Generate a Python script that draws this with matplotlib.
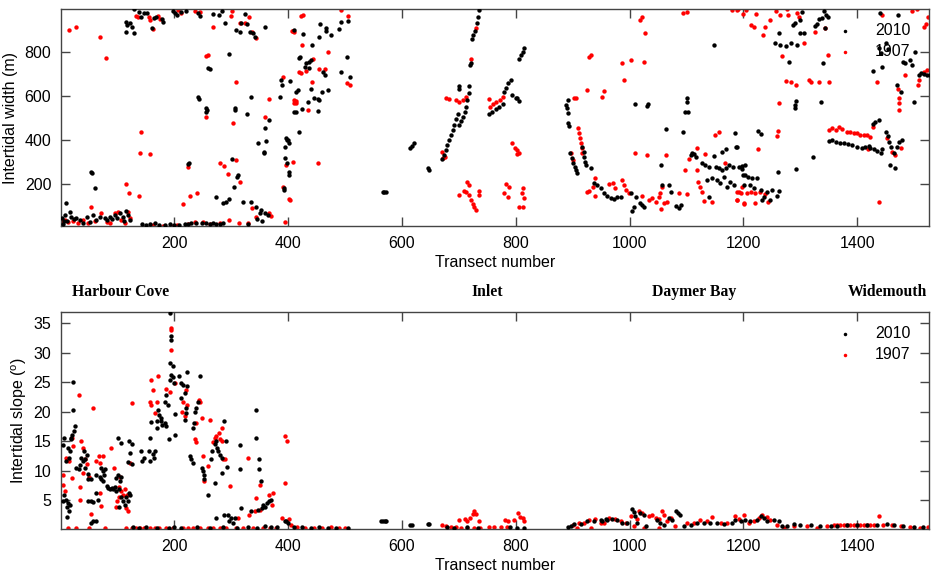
import numpy as np
import matplotlib
matplotlib.use('Agg')
import matplotlib.pyplot as plt

plt.rcParams['font.family'] = ['Liberation Sans', 'DejaVu Sans']
plt.rcParams['mathtext.fontset'] = 'custom'
plt.rcParams['mathtext.rm'] = 'Liberation Sans'

# %% data: (transect number, value)
width_2010 = np.array([
    (9, 115), (16, 74), (8, 59), (19, 51), (28, 44), (34, 36), (46, 51), (57, 59), (69, 51), (78, 44),
    (87, 51), (95, 59), (104, 70), (110, 51), (116, 79), (119, 59), (122, 36), (63, 36), (52, 28), (40, 24),
    (81, 36), (90, 39), (4, 20), (12, 30), (24, 40), (100, 45), (112, 30), (3, 45), (6, 30),
    (144, 18), (157, 18), (166, 21), (174, 13), (192, 16), (209, 13), (218, 18), (230, 24), (239, 21),
    (256, 24), (268, 21), (274, 18), (286, 24), (150, 15), (183, 14), (200, 12), (225, 20), (248, 22),
    (262, 16), (280, 19),
    (116, 938), (117, 922), (116, 892), (126, 915), (130, 885), (129, 994), (138, 983), (146, 975),
    (152, 978), (161, 907), (164, 953), (168, 957), (179, 950), (181, 938), (198, 988), (201, 975),
    (204, 968), (212, 983), (221, 988), (242, 978), (245, 963), (268, 972), (278, 966), (284, 988),
    (290, 930), (309, 900), (315, 889), (318, 930), (325, 972), (328, 927), (333, 892), (338, 884),
    (341, 869), (360, 915), (122, 930), (142, 960),
    (297, 791), (262, 722), (259, 725), (242, 594), (243, 585), (256, 544), (255, 528), (257, 536),
    (307, 544), (306, 536), (328, 518), (334, 597), (366, 491), (360, 453), (362, 397), (357, 339),
    (358, 345), (347, 385), (226, 297), (225, 290), (301, 312), (312, 241), (310, 233), (305, 188),
    (54, 256), (55, 250), (60, 180), (273, 142), (286, 112), (291, 119), (297, 130), (321, 119),
    (335, 119), (344, 94), (353, 82), (350, 66), (359, 66), (365, 59), (346, 40), (355, 30), (330, 20),
    (388, 672), (390, 650), (386, 597), (411, 528), (397, 407), (398, 400), (394, 369), (395, 316),
    (398, 294), (401, 256), (402, 241), (393, 172), (410, 900), (392, 180),
    (456, 927), (467, 907), (466, 897), (475, 877), (454, 869), (426, 881), (493, 938), (506, 942),
    (490, 903), (442, 832), (420, 771), (421, 778), (432, 748), (437, 756), (440, 763), (429, 733),
    (436, 725), (461, 710), (464, 695), (503, 775), (493, 710), (508, 685), (403, 669), (414, 619),
    (417, 627), (440, 630), (460, 619), (470, 627), (446, 589), (452, 585), (455, 581), (435, 574),
    (413, 528), (424, 539), (452, 532), (419, 438), (399, 400), (401, 385),
    (566, 165), (569, 165), (572, 165), (614, 362), (618, 372), (621, 385), (645, 271), (648, 263),
    (671, 312), (674, 331), (677, 354), (680, 377), (683, 400), (686, 422), (689, 445), (692, 468),
    (695, 494), (698, 518), (701, 468), (704, 488), (707, 506), (710, 528), (712, 551), (715, 581),
    (717, 612), (718, 645), (700, 645), (700, 630), (719, 741), (721, 748), (723, 857), (725, 877),
    (729, 897), (731, 930), (733, 960), (736, 991),
    (753, 518), (759, 528), (765, 539), (771, 551), (777, 563), (780, 619), (783, 635), (787, 657),
    (791, 672), (794, 604), (800, 589), (805, 579), (806, 766), (809, 786), (812, 801), (815, 816),
    (803, 589),
    (891, 581), (889, 559), (890, 545), (891, 524), (892, 478), (894, 463), (917, 369), (919, 347),
    (920, 324), (922, 301), (923, 286), (895, 339), (898, 316), (901, 294), (904, 278), (906, 263),
    (908, 251), (932, 271), (937, 203), (943, 195), (949, 180), (955, 160), (961, 145), (967, 135),
    (973, 130), (978, 142), (984, 139), (1002, 160), (1011, 142), (1008, 97), (1005, 79), (1018, 115),
    (1021, 104), (1025, 97), (1009, 563), (1031, 554), (1032, 563), (1101, 592), (1100, 574),
    (1098, 528), (1103, 528), (1064, 448), (1093, 435), (1056, 286), (1057, 195), (1070, 195),
    (1072, 165), (1081, 100), (1087, 89), (1091, 104), (1107, 331), (1110, 342), (1113, 336),
    (1116, 324), (1128, 294), (1133, 286), (1139, 278), (1151, 278), (1157, 271), (1163, 263),
    (1170, 271), (1174, 286), (1181, 278), (1187, 369), (1136, 218), (1145, 225), (1154, 218),
    (1158, 206), (1166, 233), (1171, 188), (1177, 210), (1183, 195), (1186, 430), (1148, 328),
    (1162, 347), (1169, 357), (1139, 142), (1148, 831), (1197, 283), (1200, 241),
    (1256, 839), (1265, 831), (1274, 827), (1283, 839), (1294, 831), (1262, 887), (1290, 933),
    (1287, 922), (1300, 945), (1303, 983), (1300, 884), (1306, 884), (1325, 918), (1329, 927),
    (1333, 948), (1338, 953), (1345, 968), (1349, 957), (1341, 986), (1344, 907), (1280, 756),
    (1339, 748), (1292, 578), (1290, 559), (1291, 544), (1337, 574), (1226, 442), (1230, 425),
    (1189, 369), (1192, 278), (1198, 266), (1202, 286), (1202, 241), (1208, 233), (1215, 225),
    (1224, 225), (1201, 195), (1212, 195), (1218, 180), (1230, 172), (1242, 165), (1250, 172),
    (1262, 169), (1236, 142), (1247, 127), (1259, 145), (1233, 127), (1261, 256), (1292, 266),
    (1323, 324),
    (1351, 395), (1356, 400), (1362, 392), (1369, 385), (1376, 385), (1384, 380), (1391, 375),
    (1400, 369), (1408, 362), (1414, 369), (1420, 372), (1423, 362), (1429, 357), (1435, 351),
    (1441, 342), (1443, 357), (1427, 472), (1432, 483), (1438, 491), (1450, 438), (1454, 418),
    (1456, 392), (1460, 366), (1464, 342), (1470, 369), (1473, 392), (1479, 400), (1458, 286),
    (1466, 271), (1427, 715), (1443, 733), (1438, 816), (1442, 794), (1450, 839), (1454, 812),
    (1440, 978), (1471, 968), (1481, 756), (1484, 748), (1493, 763), (1496, 741), (1502, 801),
    (1508, 695), (1512, 703), (1517, 700), (1522, 695), (1528, 695), (1470, 650), (1476, 619),
    (1499, 574),
])

width_1907 = np.array([
    (15, 900), (28, 915), (70, 866), (80, 774), (132, 965), (136, 960), (156, 957), (158, 945),
    (171, 963), (175, 950), (163, 903), (207, 991), (211, 978), (236, 986), (245, 981), (268, 912),
    (300, 965), (302, 988), (315, 930), (324, 930), (331, 957), (337, 892), (343, 862),
    (256, 782), (259, 786), (309, 665), (255, 503), (366, 586), (304, 478), (360, 506), (142, 438),
    (140, 339), (157, 335), (224, 278), (281, 294), (288, 282), (309, 309), (294, 245), (315, 210),
    (115, 198), (121, 157), (138, 145), (215, 109), (227, 147), (240, 157), (337, 89), (367, 66),
    (370, 54), (344, 51), (54, 97),
    (8, 36), (13, 28), (22, 33), (31, 24), (40, 36), (49, 24), (72, 66), (81, 28), (95, 70), (101, 74),
    (107, 36), (119, 74), (113, 24), (123, 44), (87, 24), (163, 13), (180, 9), (195, 9), (204, 12),
    (224, 18), (236, 29), (250, 29), (262, 18), (280, 21), (297, 36), (314, 24), (329, 24), (3, 30),
    (60, 30),
    (391, 688), (411, 581), (413, 569), (397, 286), (408, 301), (402, 132), (391, 188), (394, 28),
    (407, 897),
    (423, 963), (427, 968), (408, 897), (411, 892), (493, 991), (506, 963), (425, 832), (470, 801),
    (443, 766), (455, 721), (465, 724), (419, 710), (423, 703), (432, 712), (503, 660), (508, 650),
    (442, 665), (413, 577), (411, 569), (435, 536), (452, 294), (404, 127),
    (671, 347), (676, 321), (673, 318), (678, 589), (683, 585), (695, 581), (701, 574), (707, 581),
    (712, 597), (730, 907), (721, 766),
    (715, 210), (717, 195), (709, 169), (712, 165), (701, 150), (718, 150), (735, 169), (736, 150),
    (721, 127), (724, 109), (727, 97), (730, 82),
    (754, 551), (760, 563), (766, 574), (772, 581), (778, 593), (753, 585), (794, 385), (799, 362),
    (803, 336), (783, 200), (788, 188), (780, 160), (787, 142), (812, 180), (811, 157), (815, 135),
    (806, 97), (813, 97),
    (803, 354), (805, 339), (932, 786), (929, 775), (1021, 957), (1019, 945), (1027, 884), (987, 748),
    (1003, 763), (1025, 754), (991, 672), (925, 627), (955, 624), (951, 597), (906, 589), (903, 589),
    (910, 453), (911, 430), (913, 407), (914, 385), (916, 362), (917, 339), (897, 342), (901, 309),
    (939, 228), (926, 165), (929, 170), (935, 188), (940, 145), (963, 200), (970, 203), (975, 180),
    (987, 218), (990, 195), (993, 172), (999, 157),
    (1009, 339), (1031, 331), (1064, 331), (1021, 145), (1034, 127), (1040, 135), (1046, 119),
    (1052, 142), (1053, 160), (1057, 188), (1060, 112), (1066, 119), (1056, 85), (1087, 157),
    (1100, 153), (1098, 263), (1104, 312), (1119, 362), (1132, 336),
    (1118, 263), (1121, 210), (1123, 188), (1128, 165), (1131, 124), (1144, 119), (1150, 422),
    (1157, 438), (1167, 294), (1189, 127), (1193, 165), (1197, 188), (1201, 109),
    (1093, 975), (1101, 983), (1180, 991), (1189, 991), (1200, 972),
    (1191, 994), (1204, 991), (1214, 922), (1218, 915), (1222, 972), (1234, 877), (1237, 912),
    (1247, 945), (1257, 988), (1265, 968), (1277, 994), (1278, 968), (1294, 978), (1297, 960),
    (1306, 842), (1325, 889), (1343, 907), (1267, 781), (1349, 786), (1274, 669), (1283, 665),
    (1292, 650), (1316, 672), (1318, 665), (1332, 665), (1351, 665), (1263, 569), (1261, 442),
    (1259, 418), (1226, 357),
    (1189, 165), (1195, 160), (1206, 157), (1214, 165), (1221, 160), (1229, 162), (1237, 154),
    (1243, 119), (1201, 115), (1189, 127), (1221, 115),
    (1351, 445), (1356, 453), (1362, 445), (1367, 457), (1374, 448), (1382, 435), (1388, 438),
    (1394, 430), (1400, 430), (1405, 422), (1411, 422), (1417, 422), (1423, 415), (1427, 460),
    (1419, 357), (1452, 407), (1461, 347), (1466, 331), (1476, 362), (1439, 116), (1443, 968),
    (1435, 665), (1484, 695), (1507, 650), (1509, 672), (1517, 710), (1522, 718), (1496, 988),
    (1505, 994), (1517, 915), (1520, 927), (1525, 960), (1472, 630), (1474, 589), (1473, 566),
    (1474, 536),
])

slope_2010 = np.array([
    (193, 36.8), (195, 32.9), (195, 32.2), (192, 28.3), (198, 27.7), (195, 26.3), (198, 25.8),
    (199, 24.9), (193, 25.4), (209, 26.0), (212, 24.9), (215, 24.6), (222, 26.8), (222, 24.3),
    (218, 23.2), (211, 22.3), (186, 22.9), (183, 21.7), (189, 21.2), (202, 19.6), (201, 16.1),
    (191, 15.4), (221, 20.6), (220, 19.8), (218, 18.6), (171, 20.2), (174, 19.5), (177, 18.9),
    (177, 18.4), (179, 17.8), (183, 18.1), (186, 17.5), (169, 18.4), (169, 17.3), (159, 18.2),
    (158, 15.5), (142, 13.3), (146, 12.1), (144, 11.6), (156, 13.3), (163, 12.8), (164, 12.1),
    (158, 11.6), (167, 13.3), (121, 15.0), (123, 13.0), (119, 11.5), (125, 11.1), (125, 14.5),
    (246, 26.0), (239, 20.7), (242, 21.7), (236, 19.9), (234, 18.1), (233, 17.3), (227, 12.4),
    (230, 11.9), (233, 11.3), (249, 10.5), (250, 10.0), (252, 9.3), (253, 8.6), (259, 5.9),
    (265, 11.9), (267, 13.4), (271, 14.5), (273, 15.0), (275, 13.8), (277, 13.4), (280, 12.7),
    (283, 12.1), (288, 18.4), (291, 15.0), (293, 10.6), (283, 9.6), (271, 7.9), (315, 14.4),
    (315, 10.3), (344, 20.3), (344, 15.5), (349, 12.0), (349, 10.2), (353, 8.2), (356, 4.2),
    (355, 3.7), (347, 3.4), (359, 3.9), (363, 4.5), (367, 4.8), (370, 5.1), (318, 3.7), (335, 3.1),
    (288, 2.5), (294, 2.4), (300, 2.0), (306, 2.0), (274, 2.0), (297, 1.4), (303, 1.1),
    (22, 25.1), (22, 20.3), (25, 17.5), (23, 16.7), (21, 16.1), (19, 15.6), (6, 15.6), (5, 14.4),
    (13, 13.8), (16, 13.3), (18, 15.3), (15, 12.1), (9, 11.6), (6, 5.9), (9, 5.1), (13, 4.5),
    (16, 4.2), (12, 3.9), (15, 3.2), (11, 2.2), (4, 4.8), (28, 10.5), (33, 10.2), (35, 11.0),
    (40, 11.6), (43, 11.9), (46, 12.7), (41, 13.3), (37, 12.1), (44, 10.5), (49, 9.4), (49, 8.5),
    (54, 8.6), (49, 4.8), (53, 4.8), (57, 4.7), (63, 6.2), (54, 1.1), (57, 1.4), (62, 1.5), (66, 5.1),
    (63, 9.3), (69, 9.0), (72, 10.5), (75, 9.9), (78, 10.2), (76, 9.2), (72, 8.5), (75, 8.2),
    (81, 7.4), (84, 7.1), (87, 6.8), (90, 7.1), (92, 6.8), (95, 7.2), (98, 6.5), (97, 8.8),
    (101, 9.3), (104, 8.2), (107, 9.0), (103, 6.8), (107, 5.6), (110, 4.8), (113, 4.2), (116, 5.5),
    (121, 6.2), (123, 5.8), (119, 4.8), (103, 3.9), (101, 15.6), (107, 14.7),
    (128, 0.4), (138, 0.3), (150, 0.4), (170, 0.3), (190, 0.3), (199, 0.4), (212, 0.3), (240, 0.4),
    (262, 0.3), (285, 0.4), (310, 0.3), (330, 0.4), (345, 0.3), (360, 0.6), (370, 0.4), (380, 0.5),
    (396, 1.5), (394, 1.4), (399, 1.1), (410, 0.5), (425, 0.4), (440, 0.3), (455, 0.4), (470, 0.3),
    (485, 0.2), (505, 0.3),
    (563, 1.4), (566, 1.4), (570, 1.4), (572, 1.4), (614, 0.7), (617, 0.7), (645, 0.9), (648, 0.9),
    (680, 0.5), (692, 0.3), (715, 0.4), (733, 0.2), (790, 0.4), (803, 0.3), (815, 0.3),
    (891, 0.4), (897, 0.6), (903, 0.9), (914, 1.0), (926, 1.4), (937, 1.4), (949, 1.6), (958, 1.8),
    (952, 1.4), (961, 1.7), (969, 1.8), (978, 1.7), (987, 1.2), (996, 1.1), (1005, 3.5), (1008, 2.9),
    (1010, 2.3), (1019, 2.8), (1025, 2.5), (1013, 1.1), (1028, 0.6), (1048, 1.7), (1054, 1.2),
    (1060, 0.8), (1069, 2.0), (1075, 1.7), (1081, 3.1), (1085, 2.8), (1089, 2.5), (1095, 0.6),
    (1107, 0.8), (1119, 1.1), (1130, 1.2), (1142, 1.1), (1154, 1.2), (1165, 1.0), (1180, 1.2),
    (1186, 1.7), (1195, 1.4), (1203, 1.7), (1212, 1.4), (1224, 1.7), (1230, 2.3), (1236, 2.0),
    (1242, 1.4), (1253, 1.6), (1262, 1.4), (1268, 0.6), (1277, 0.6), (1288, 1.0), (1300, 0.7),
    (1318, 0.8), (1335, 0.6), (1353, 0.6), (1365, 0.6), (1382, 0.7), (1399, 0.7), (1417, 0.8),
    (1435, 0.8), (1452, 1.0), (1464, 0.8), (1481, 0.6), (1499, 0.5), (1516, 0.5),
])

slope_1907 = np.array([
    (195, 34.2), (194, 33.9), (195, 30.5), (201, 24.9), (186, 23.9), (192, 23.4), (220, 23.7),
    (215, 21.7), (222, 21.2), (214, 19.9), (218, 19.2), (160, 25.4), (171, 26.0), (163, 23.6),
    (157, 21.7), (160, 21.2), (169, 21.7), (166, 19.8), (125, 21.5), (123, 11.3), (243, 22.0),
    (246, 21.6), (248, 18.9), (238, 18.1), (236, 15.3), (238, 14.9), (250, 12.4), (262, 18.6),
    (259, 10.7), (253, 8.2), (268, 14.9), (271, 15.5), (274, 15.8), (278, 16.4), (283, 17.2),
    (280, 15.3), (283, 15.0), (286, 11.9), (290, 11.9), (298, 7.4), (329, 12.1), (351, 7.5),
    (344, 5.4), (367, 5.8), (372, 4.2), (394, 15.8), (398, 15.0), (394, 7.9), (373, 6.2), (350, 3.4),
    (332, 2.4), (341, 3.1), (312, 2.0),
    (33, 22.9), (57, 20.7), (5, 9.3), (4, 7.6), (9, 12.1), (15, 11.6), (21, 8.7), (8, 6.5),
    (21, 15.5), (22, 14.1), (34, 5.1), (37, 15.1), (40, 13.8), (34, 7.3), (39, 9.6), (44, 12.0),
    (50, 9.0), (47, 11.1), (54, 2.6), (69, 6.2), (72, 4.0), (68, 12.4), (75, 12.4), (63, 11.6),
    (69, 11.3), (88, 13.9), (94, 10.4), (103, 7.2), (105, 8.9), (107, 6.5), (113, 6.8), (110, 5.9),
    (117, 5.9), (103, 5.5), (99, 4.8), (97, 3.8), (116, 3.6), (119, 3.1),
    (14, 0.3), (28, 0.3), (51, 0.3), (78, 0.3), (116, 0.3), (125, 0.3), (133, 0.3), (139, 0.3),
    (146, 0.3), (157, 0.3), (166, 0.3), (174, 0.3), (186, 0.3), (198, 0.3), (215, 0.3), (224, 0.3),
    (233, 0.3), (245, 0.3), (259, 0.3), (268, 0.3), (280, 0.3), (291, 0.3), (309, 0.3), (321, 0.3),
    (338, 0.3), (356, 0.3), (368, 0.3), (379, 0.3), (402, 1.8), (405, 0.8), (390, 2.0),
    (415, 0.4), (430, 0.3), (445, 0.3), (460, 0.3), (475, 0.4), (490, 0.3), (500, 0.3),
    (671, 0.8), (677, 0.6), (686, 0.4), (695, 0.5), (704, 0.3), (715, 0.3), (727, 0.2), (738, 0.2),
    (701, 1.6), (715, 1.4), (720, 2.0), (724, 2.6), (727, 3.2), (730, 2.7), (736, 1.4), (711, 1.8),
    (753, 0.4), (762, 0.4), (774, 0.4), (785, 0.4), (781, 1.7), (786, 1.4), (797, 1.6), (804, 2.8),
    (812, 2.0), (815, 1.4), (808, 2.2),
    (900, 0.8), (911, 1.1), (920, 1.1), (929, 1.7), (940, 1.8), (949, 1.1), (908, 0.3), (932, 0.3),
    (955, 1.1), (964, 2.0), (975, 1.8), (984, 1.4), (993, 1.1), (1002, 2.3), (1013, 1.8), (1016, 3.1),
    (1022, 2.8), (1034, 2.3), (1040, 2.4), (1046, 2.0), (1051, 1.8), (1057, 3.1), (1060, 2.4),
    (1066, 1.4), (1072, 2.0), (1008, 0.6), (1025, 0.3), (1051, 0.3), (1080, 0.6), (1101, 1.1),
    (1113, 1.2), (1124, 1.7), (1136, 1.4), (1145, 2.1), (1160, 1.1), (1171, 1.2), (1186, 2.3),
    (1192, 1.8), (1201, 2.4), (1209, 1.2), (1218, 1.4), (1227, 2.0), (1233, 2.4), (1242, 2.1),
    (1247, 1.7), (1259, 0.7), (1271, 0.3), (1288, 0.6), (1312, 0.6), (1329, 0.3), (1347, 0.6),
    (1359, 0.8), (1365, 0.8), (1370, 0.8), (1376, 0.8), (1382, 0.8), (1388, 0.8), (1394, 0.8),
    (1400, 0.8), (1405, 0.8), (1411, 0.8), (1417, 0.8), (1423, 0.8), (1429, 0.8), (1439, 2.3),
    (1446, 0.8), (1461, 0.7), (1476, 0.6), (1493, 0.5), (1511, 0.3), (1525, 0.5),
])

site_names = ['Harbour Cove', 'Inlet', 'Daymer Bay', 'Widemouth']
site_x = [121, 487, 694, 887]  # label centres, pixels

# %%
fig = plt.figure(figsize=(9.32, 5.77), dpi=100)
W, H = 932, 577

def px_axes(l, t, r, b):
    return fig.add_axes([l / W, 1 - b / H, (r - l) / W, (b - t) / H])

ax1 = px_axes(61, 9, 929, 226)
ax2 = px_axes(61, 312, 929, 529)

fs = 11.5
spine_col = '#444444'
for ax in (ax1, ax2):
    for s in ax.spines.values():
        s.set_color(spine_col)
        s.set_linewidth(1.0)
    ax.tick_params(direction='in', top=True, right=True, length=6.5, width=1,
                   color=spine_col, labelsize=fs, pad=7)
    ax.set_xlim(1, 1526)
    ax.set_xticks([200, 400, 600, 800, 1000, 1200, 1400])
    ax.set_xlabel('Transect number', fontsize=fs, labelpad=3)

ms = 10
ax1.scatter(width_2010[:, 0], width_2010[:, 1], s=ms, c='black', lw=0, label='2010', zorder=3)
ax1.scatter(width_1907[:, 0], width_1907[:, 1], s=ms, c='red', lw=0, label='1907', zorder=2)
ax1.set_ylim(9, 995)
ax1.set_yticks([200, 400, 600, 800])
ax1.set_ylabel('Intertidal width (m)', fontsize=fs, labelpad=5)

ax2.scatter(slope_2010[:, 0], slope_2010[:, 1], s=ms, c='black', lw=0, label='2010', zorder=3)
ax2.scatter(slope_1907[:, 0], slope_1907[:, 1], s=ms, c='red', lw=0, label='1907', zorder=2)
ax2.set_ylim(0.1, 36.9)
ax2.set_yticks([5, 10, 15, 20, 25, 30, 35])
ax2.set_ylabel(r'Intertidal slope ($^{\rm o}$)', fontsize=fs, labelpad=3)

for ax in (ax1, ax2):
    ax.legend(loc='upper right', bbox_to_anchor=(0.986, 0.963), borderaxespad=0,
              frameon=False, fontsize=fs, markerscale=0.8, handletextpad=1.1,
              handlelength=1.5, labelspacing=0.35)

for name, x in zip(site_names, site_x):
    fig.text(x / W, 1 - 292 / H, name, ha='center', va='center',
             family=['Liberation Serif', 'DejaVu Serif'], weight='bold', fontsize=11.3)

fig.savefig('out.png', dpi=100, facecolor='white')
